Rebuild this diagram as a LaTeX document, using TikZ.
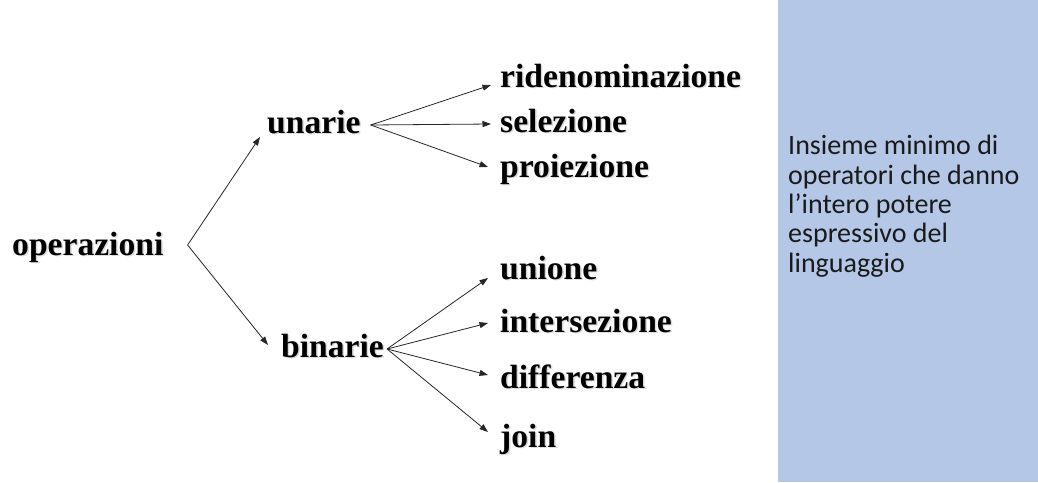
\documentclass[tikz,border=0pt]{standalone}
\usepackage{fontspec}
\setmainfont{Liberation Serif}
\newfontfamily\notefont{Carlito}
\usetikzlibrary{arrows.meta}
\definecolor{panelblue}{HTML}{B4C7E7}
\definecolor{notetext}{HTML}{1A1A1A}
\newcommand{\shd}[1]{\makebox[0pt][l]{\hspace{1.5pt}\raisebox{-1.5pt}{\textcolor{black!14}{#1}}}#1}
\tikzset{
  lbl/.style={anchor=base west, inner sep=0pt, font=\fontsize{33.6}{40}\selectfont\bfseries},
  arr/.style={draw=black!85, line width=0.8pt, -{Triangle[length=8.5pt,width=6pt]}},
  notebox/.style={anchor=north west, inner sep=0pt, align=left, text=notetext,
    font=\notefont\fontsize{28}{29.4}\selectfont}
}
\begin{document}
\begin{tikzpicture}[x=1pt,y=-1pt]
\useasboundingbox (0,0) rectangle (1038,482);
\fill[panelblue] (778,0) rectangle (1038,482);
\node[notebox] (note) at (788,135) {Insieme minimo di\\operatori che danno\\l’intero potere\\espressivo del\\linguaggio};

\node[lbl] (op)  at (12,255)  {\shd{operazioni}};
\node[lbl] (un)  at (267,133) {\shd{unarie}};
\node[lbl] (bi)  at (281,357) {\shd{binarie}};
\node[lbl] (rid) at (500,87)  {\shd{ridenominazione}};
\node[lbl] (sel) at (500,132) {\shd{selezione}};
\node[lbl] (pro) at (500,177) {\shd{proiezione}};
\node[lbl] (uni) at (500,279) {\shd{unione}};
\node[lbl] (int) at (500,332) {\shd{intersezione}};
\node[lbl] (dif) at (500,388) {\shd{differenza}};
\node[lbl] (joi) at (500,447) {\shd{join}};

\coordinate (opv) at ([shift={(24,-10)}]op.base east);
\coordinate (unv) at ([shift={(10,-8)}]un.base east);
\coordinate (biv) at ([shift={(3,-8)}]bi.base east);

\draw[arr] (opv) -- ([shift={(-7,4)}]un.base west);
\draw[arr] (opv) -- ([shift={(-13,-12)}]bi.base west);

\draw[arr] (unv) -- ([shift={(-9,-2)}]rid.base west);
\draw[arr] (unv) -- ([shift={(-9,-8)}]sel.base west);
\draw[arr] (unv) -- ([shift={(-12,-10)}]pro.base west);

\draw[arr] (biv) -- ([shift={(-12,-1)}]uni.base west);
\draw[arr] (biv) -- ([shift={(-12,-9)}]int.base west);
\draw[arr] (biv) -- ([shift={(-12,-13)}]dif.base west);
\draw[arr] (biv) -- ([shift={(-12,-15)}]joi.base west);
\end{tikzpicture}
\end{document}
